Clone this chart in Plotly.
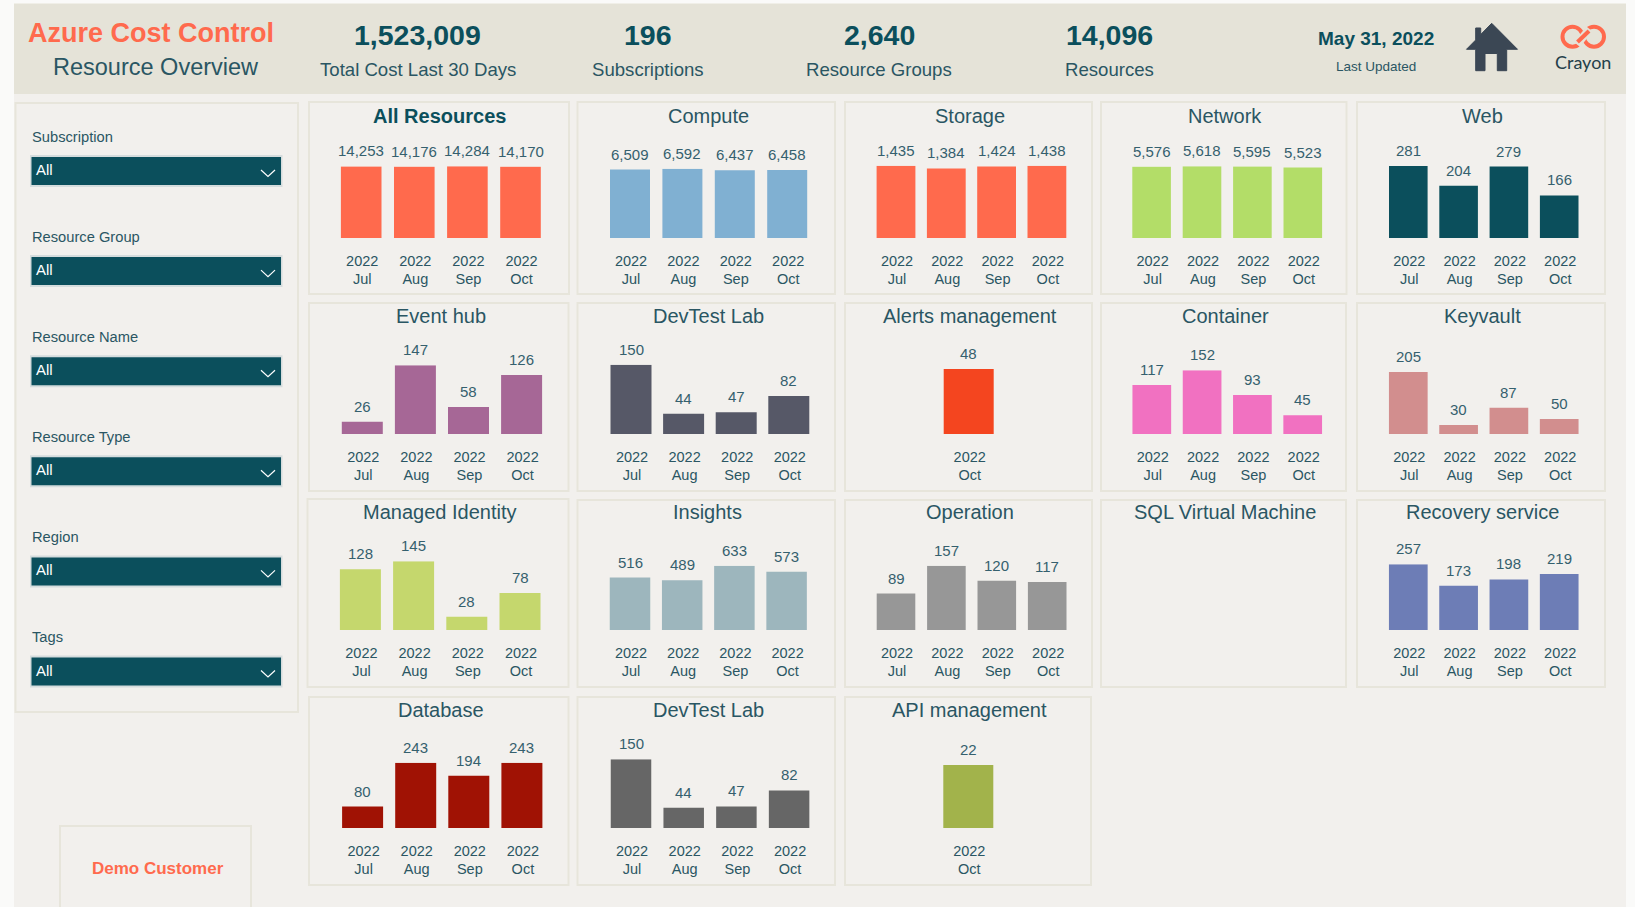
import plotly.graph_objects as go

MONTHS = ["2022<br>Jul", "2022<br>Aug", "2022<br>Sep", "2022<br>Oct"]
OCT_ONLY = ["2022<br>Oct"]

ALL_RESOURCES = [14253, 14176, 14284, 14170]
COMPUTE = [6509, 6592, 6437, 6458]
STORAGE = [1435, 1384, 1424, 1438]
NETWORK = [5576, 5618, 5595, 5523]
WEB = [281, 204, 279, 166]
EVENT_HUB = [26, 147, 58, 126]
DEVTEST_LAB = [150, 44, 47, 82]
ALERTS = [48]
CONTAINER = [117, 152, 93, 45]
KEYVAULT = [205, 30, 87, 50]
MANAGED_IDENTITY = [128, 145, 28, 78]
INSIGHTS = [516, 489, 633, 573]
OPERATION = [89, 157, 120, 117]
RECOVERY = [257, 173, 198, 219]
DATABASE = [80, 243, 194, 243]
DEVTEST_LAB_2 = [150, 44, 47, 82]
API_MANAGEMENT = [22]

KPI_VALUES = ["1,523,009", "196", "2,640", "14,096"]
KPI_LABELS = ["Total Cost Last 30 Days", "Subscriptions", "Resource Groups", "Resources"]
SLICERS = ["Subscription", "Resource Group", "Resource Name", "Resource Type", "Region", "Tags"]

W, H = 1635, 907
TEAL = "#0B4F5C"
TXT = "#2A5663"
LABEL = "#35606E"
ORANGE = "#FF6A4D"
HEADER = "#E5E3D8"
PAGE = "#F2F0ED"
BORDER = "#E7E5DB"
FONT = "Liberation Sans, Arial, sans-serif"


def fx(x):
    return x / W


def fy(y):
    return 1 - y / H


# title, bold, values, months, colour
SERIES = [
    ("All Resources", True, ALL_RESOURCES, MONTHS, "#FF6A4D"),
    ("Compute", False, COMPUTE, MONTHS, "#80B0D2"),
    ("Storage", False, STORAGE, MONTHS, "#FF6A4D"),
    ("Network", False, NETWORK, MONTHS, "#B3DD68"),
    ("Web", False, WEB, MONTHS, "#0B4F5C"),
    ("Event hub", False, EVENT_HUB, MONTHS, "#A66796"),
    ("DevTest Lab", False, DEVTEST_LAB, MONTHS, "#565867"),
    ("Alerts management", False, ALERTS, OCT_ONLY, "#F4451F"),
    ("Container", False, CONTAINER, MONTHS, "#F171C1"),
    ("Keyvault", False, KEYVAULT, MONTHS, "#D28E8E"),
    ("Managed Identity", False, MANAGED_IDENTITY, MONTHS, "#C5D76D"),
    ("Insights", False, INSIGHTS, MONTHS, "#9DB6BD"),
    ("Operation", False, OPERATION, MONTHS, "#979797"),
    ("SQL Virtual Machine", False, [], [], "#979797"),
    ("Recovery service", False, RECOVERY, MONTHS, "#6D7DB6"),
    ("Database", False, DATABASE, MONTHS, "#A01204"),
    ("DevTest Lab", False, DEVTEST_LAB_2, MONTHS, "#666666"),
    ("API management", False, API_MANAGEMENT, OCT_ONLY, "#A2B34B"),
]

# panel box x0,x1,y0,y1 / title x,y / first bar centre, pitch, bar width, baseline, top of tallest bar
GEOM = [
    (309, 569, 102, 294, 440, 116, 361.2, 53.1, 40.6, 238, 166.3),
    (577.5, 835, 102, 294, 708, 116, 630, 52.4, 40, 238, 168.7),
    (845, 1092, 102, 294, 969.5, 116, 896, 50.3, 38.8, 238, 165.7),
    (1101, 1346.5, 102, 294, 1225, 116, 1151.6, 50.4, 38.6, 238, 166.3),
    (1357, 1605, 102, 294, 1482, 116, 1408.3, 50.3, 38.6, 238, 166),
    (309, 568.5, 303, 491, 440.5, 316, 362.3, 53.1, 41, 434, 365.3),
    (577.5, 835, 303, 491, 708.5, 316, 631, 52.6, 41, 434, 364.7),
    (845, 1092, 303, 491, 970, 316, 968.7, 65.8, 50, 434, 369),
    (1101, 1346, 303, 491, 1225.5, 316, 1151.8, 50.3, 38.7, 434, 370.3),
    (1357, 1605, 303, 491, 1482, 316, 1408.3, 50.3, 38.7, 434, 372),
    (307.5, 568.5, 499, 687, 439.5, 511.5, 360.4, 53.2, 41, 630, 561.3),
    (577.5, 835, 500, 687, 707.5, 512, 630, 52.2, 40.5, 630, 565.7),
    (845, 1092, 500, 687, 970, 512, 896, 50.4, 38.6, 630, 565.7),
    (1101, 1346, 500, 687, 1225, 512, 0, 1, 1, 630, 600),
    (1357, 1605, 500, 687, 1482, 512, 1408.3, 50.3, 38.7, 630, 564.3),
    (309, 568.5, 697, 885, 440.5, 710, 362.6, 53.1, 41, 828, 762.7),
    (577.5, 835, 697, 885, 708.5, 710, 631, 52.7, 40.5, 828, 759.3),
    (845, 1091, 697, 885, 970, 710, 968.3, 65.8, 50, 828, 765),
]

fig = go.Figure()
shapes = []
annotations = []
layout_axes = {}


def rect(x0, y0, x1, y1, fill, line=None, lw=0):
    shapes.append(dict(
        type="rect", xref="paper", yref="paper", layer="below",
        x0=fx(x0), x1=fx(x1), y0=fy(y1), y1=fy(y0), fillcolor=fill,
        line=dict(color=line or fill, width=lw),
    ))


def text(x, y, s, size, color=TXT, bold=False, anchor="center", family=FONT):
    annotations.append(dict(
        xref="paper", yref="paper", x=fx(x), y=fy(y), text=f"<b>{s}</b>" if bold else s,
        showarrow=False, xanchor=anchor, yanchor="middle",
        font=dict(family=family, size=size, color=color),
    ))


def path(points, color, width, closed=False, fill=None, layer="above"):
    d = "M " + " L ".join(f"{fx(x):.5f},{fy(y):.5f}" for x, y in points)
    if closed:
        d += " Z"
    s = dict(type="path", xref="paper", yref="paper", path=d, layer=layer,
             line=dict(color=color, width=width))
    if fill:
        s["fillcolor"] = fill
    shapes.append(s)


def circle(cx, cy, r, color, width):
    shapes.append(dict(type="circle", xref="paper", yref="paper",
                       x0=fx(cx - r), x1=fx(cx + r), y0=fy(cy + r), y1=fy(cy - r),
                       line=dict(color=color, width=width)))


# page and header
rect(14, 4, 1626, 907, PAGE)
rect(14, 3.5, 1626, 94, HEADER)

text(151, 33, "Azure Cost Control", 27, ORANGE, True)
text(156, 66.5, "Resource Overview", 23.5, TXT)
for cx, v, lab in zip([417.5, 648, 879, 1109], KPI_VALUES, KPI_LABELS):
    text(cx, 35, v, 28.5, TEAL, True)
    text(cx, 69, lab, 18.6, TXT)
text(1375.5, 38.5, "May 31, 2022", 19, TEAL, True)
text(1376, 66, "Last Updated", 13.5, TXT)

# home icon
path([(1491.7, 23.3), (1517.5, 49.3), (1506.7, 49.3), (1506.7, 70.7), (1497.3, 70.7), (1497.3, 53.5),
      (1485, 53.5), (1485, 70.7), (1475.7, 70.7), (1475.7, 49.3), (1466.5, 49.3), (1475.7, 40),
      (1475.7, 28), (1480.7, 28), (1480.7, 34.5)], "#3B4754", 1, closed=True, fill="#3B4754")

# Crayon logo
circle(1572.5, 36.7, 10, ORANGE, 4)
circle(1594, 36.7, 10, ORANGE, 4)
path([(1577, 44.5), (1589.5, 29)], HEADER, 8)
path([(1577.5, 42), (1589, 31)], ORANGE, 4)
text(1582.5, 62, "Crayon", 18, "#24404A", family="Lato, sans-serif")

# slicers
rect(15.5, 103, 298, 712, PAGE, BORDER, 2)
for i, name in enumerate(SLICERS):
    y = 100.1 * i
    text(30, 136.5 + y, name, 14.7, TXT, anchor="left")
    rect(30, 155 + y, 282.5, 187 + y, "#D5DCDD")
    rect(31.5, 157 + y, 281, 185 + y, TEAL)
    text(34, 169.5 + y, "All", 15, "#FFFFFF", anchor="left")
    path([(261, 170 + y), (268, 176.5 + y), (275, 170 + y)], "#FFFFFF", 1.2)

rect(60, 826, 251, 915, PAGE, BORDER, 2)
text(157.5, 868, "Demo Customer", 17, ORANGE, True)

# chart panels
for i, ((title, bold, values, cats, color), g) in enumerate(zip(SERIES, GEOM), start=1):
    x0, x1, y0, y1, tx, ty, c0, pitch, barw, base, top = g
    rect(x0, y0, x1, y1, PAGE, BORDER, 2)
    text(tx, ty, title, 20, TXT if not bold else TEAL, bold)
    if not values:
        continue
    n = len(values)
    suffix = str(i)
    fig.add_trace(go.Bar(
        x=cats, y=values, marker=dict(color=color, line=dict(width=0)),
        xaxis=f"x{suffix}", yaxis=f"y{suffix}", showlegend=False, hoverinfo="skip",
        width=barw / pitch,
    ))
    layout_axes[f"xaxis{suffix}"] = dict(
        domain=[fx(c0 - pitch / 2), fx(c0 + (n - 0.5) * pitch)],
        anchor=f"y{suffix}", type="category", range=[-0.5, n - 0.5],
        categoryorder="array", categoryarray=cats,
        showgrid=False, zeroline=False, showline=False, ticks="",
        ticklabelstandoff=12, ticklabelshift=1, tickangle=0,
        tickfont=dict(family=FONT, size=14.5, color=TXT),
    )
    layout_axes[f"yaxis{suffix}"] = dict(
        domain=[fy(base), fy(top)], anchor=f"x{suffix}",
        range=[0, max(values)], visible=False,
    )
    for c, v in zip(cats, values):
        annotations.append(dict(
            xref=f"x{suffix}", yref=f"y{suffix}", x=c, y=v, text=f"{v:,}",
            showarrow=False, xanchor="center", yanchor="middle", yshift=15.5,
            font=dict(family=FONT, size=15, color=LABEL),
        ))

fig.update_layout(
    width=W, height=H, autosize=False,
    margin=dict(l=0, r=0, t=0, b=0, pad=0),
    paper_bgcolor="#FAFAF9", plot_bgcolor="rgba(0,0,0,0)",
    showlegend=False, shapes=shapes, annotations=annotations,
    **layout_axes,
)

fig.write_html(
    "out.html",
    config={"displayModeBar": False, "responsive": False},
    post_script="document.body.style.margin='0';document.body.style.overflow='hidden';",
)
